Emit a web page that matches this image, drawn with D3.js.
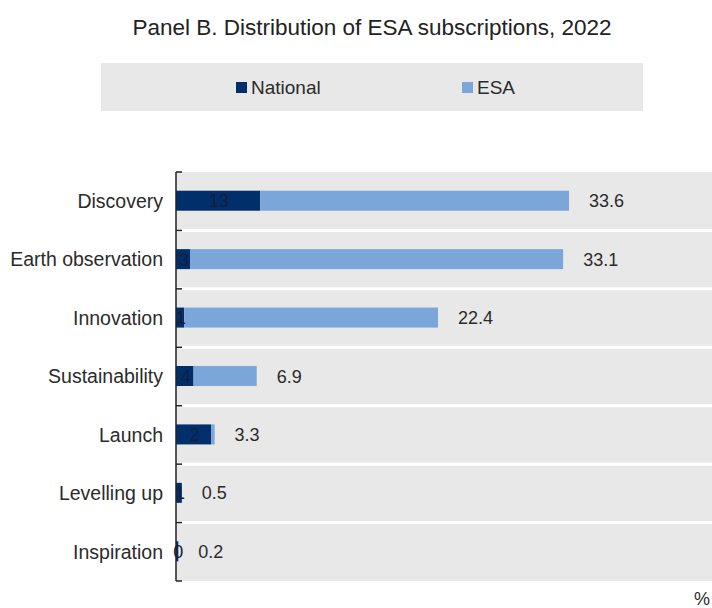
<!DOCTYPE html>
<html>
<head>
<meta charset="utf-8">
<script src="https://cdn.jsdelivr.net/npm/d3@7"></script>
<style>
  html, body { margin: 0; padding: 0; background: #fff; }
  svg { display: block; font-family: "Liberation Sans", Arial, sans-serif; }
</style>
</head>
<body>
<svg id="chart" width="712" height="608"></svg>
<script>
// ---- data ----
const categories = ["Discovery", "Earth observation", "Innovation", "Sustainability", "Launch", "Levelling up", "Inspiration"];
const nationalValues = [7.2, 1.2, 0.7, 1.5, 3.0, 0.5, 0.2];
const esaValues = [26.4, 31.9, 21.7, 5.4, 0.3, 0.0, 0.0];
const nationalLabels = ["13", "3", "1", "4", "2", "1", "0"];
const totalLabels = ["33.6", "33.1", "22.4", "6.9", "3.3", "0.5", "0.2"];
const seriesNames = ["National", "ESA"];
const title = "Panel B. Distribution of ESA subscriptions, 2022";
const unitLabel = "%";

// ---- styles ----
const colors = { National: "#002f6c", ESA: "#7aa6da" };
const bg = "#e8e8e8";
const textColor = "#2b2b2b";

const svg = d3.select("#chart");

// title
svg.append("text")
  .attr("x", 372).attr("y", 35)
  .attr("text-anchor", "middle")
  .attr("font-size", 22.5)
  .attr("fill", "#222")
  .text(title);

// legend
svg.append("rect")
  .attr("x", 101).attr("y", 63).attr("width", 542).attr("height", 48)
  .attr("fill", bg);
const legendX = [236, 462];
seriesNames.forEach((s, i) => {
  svg.append("rect")
    .attr("x", legendX[i]).attr("y", 82).attr("width", 11).attr("height", 11)
    .attr("fill", colors[s]);
  svg.append("text")
    .attr("x", legendX[i] + 15).attr("y", 94)
    .attr("font-size", 19)
    .attr("fill", textColor)
    .text(s);
});

// scales
const x = d3.scaleLinear().domain([0, 46]).range([176, 714]);
const y = d3.scaleBand().domain(categories).range([172, 581]).padding(0);
const barH = 20;

// plot background
svg.append("rect")
  .attr("x", x(0)).attr("y", 172)
  .attr("width", 712 - x(0)).attr("height", 581 - 172)
  .attr("fill", bg);

// white separators
svg.selectAll("line.sep")
  .data(categories.slice(1))
  .join("line")
  .attr("class", "sep")
  .attr("x1", x(0)).attr("x2", 712)
  .attr("y1", d => y(d)).attr("y2", d => y(d))
  .attr("stroke", "#fff").attr("stroke-width", 3);

// stacked bars
const rows = categories.map((c, i) => ({ c, National: nationalValues[i], ESA: esaValues[i] }));
const stack = d3.stack().keys(seriesNames)(rows);
svg.selectAll("g.series")
  .data(stack)
  .join("g")
  .attr("class", "series")
  .attr("fill", d => colors[d.key])
  .selectAll("rect")
  .data(d => d)
  .join("rect")
  .attr("x", d => x(d[0]))
  .attr("y", d => y(d.data.c) + y.bandwidth() / 2 - barH / 2 - 0.5)
  .attr("width", d => Math.max(0, x(d[1]) - x(d[0])))
  .attr("height", barH);

// national labels (inside)
svg.selectAll("text.nat")
  .data(categories)
  .join("text")
  .attr("class", "nat")
  .attr("x", (d, i) => (x(0) + x(nationalValues[i])) / 2 + 1)
  .attr("y", d => y(d) + y.bandwidth() / 2 + 6)
  .attr("text-anchor", "middle")
  .attr("font-size", 18)
  .attr("fill", "#14203a")
  .text((d, i) => nationalLabels[i]);

// total labels
svg.selectAll("text.tot")
  .data(categories)
  .join("text")
  .attr("class", "tot")
  .attr("x", (d, i) => x(nationalValues[i] + esaValues[i]) + 20)
  .attr("y", d => y(d) + y.bandwidth() / 2 + 6)
  .attr("font-size", 18)
  .attr("fill", textColor)
  .text((d, i) => totalLabels[i]);

// y axis
const yAxis = d3.axisLeft(y).tickSize(0).tickPadding(13);
const gy = svg.append("g").attr("transform", `translate(${x(0)},0)`).call(yAxis);
gy.select(".domain").remove();
gy.selectAll("text")
  .attr("font-size", 19.5)
  .attr("font-family", "Liberation Sans, Arial, sans-serif")
  .attr("fill", textColor)
  .attr("dy", "0.35em");
svg.append("line")
  .attr("x1", x(0)).attr("x2", x(0)).attr("y1", 172).attr("y2", 581)
  .attr("stroke", "#222").attr("stroke-width", 1.5);
const boundaries = categories.map(c => y(c)).concat([581]);
svg.selectAll("line.tick2")
  .data(boundaries)
  .join("line")
  .attr("class", "tick2")
  .attr("x1", x(0)).attr("x2", x(0) + 6)
  .attr("y1", d => d).attr("y2", d => d)
  .attr("stroke", "#222").attr("stroke-width", 1.5);

// unit label
svg.append("text")
  .attr("x", 694).attr("y", 605)
  .attr("font-size", 18)
  .attr("fill", textColor)
  .text(unitLabel);
</script>
</body>
</html>
